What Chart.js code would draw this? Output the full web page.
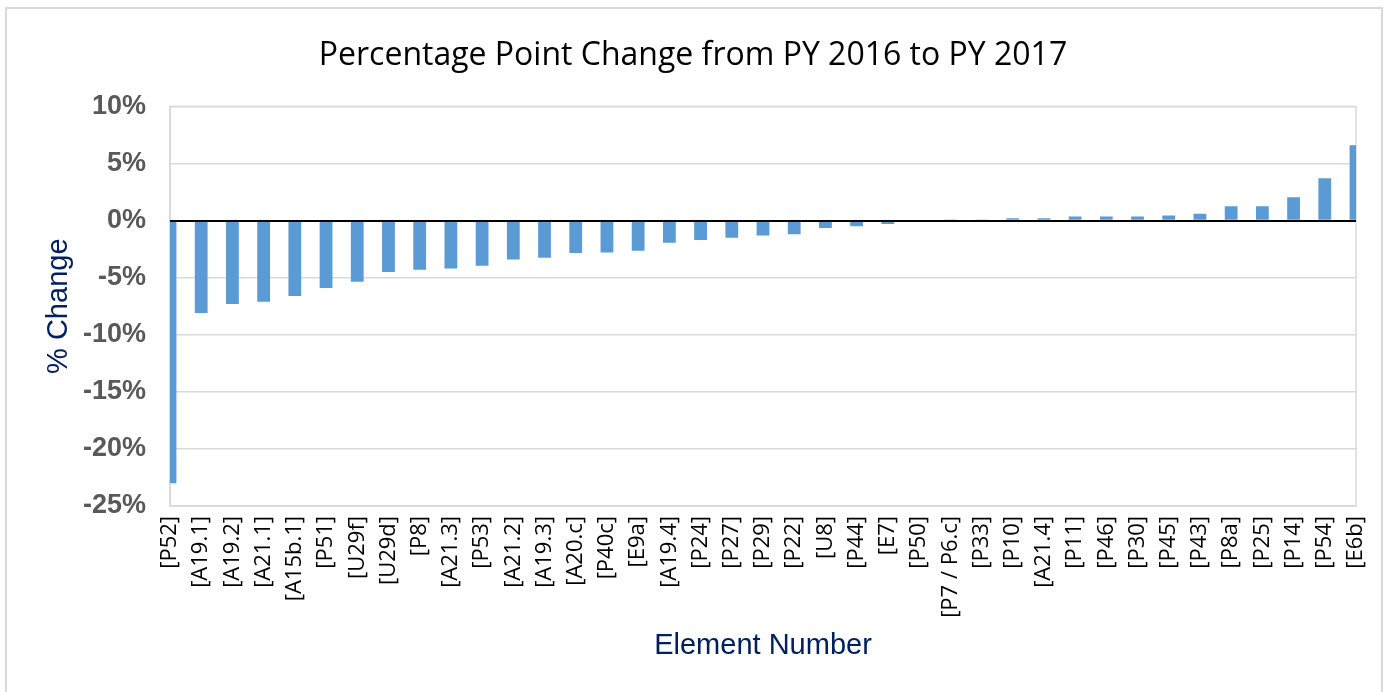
<!DOCTYPE html>
<html>
<head>
<meta charset="utf-8">
<title>Percentage Point Change from PY 2016 to PY 2017</title>
<script src="https://cdn.jsdelivr.net/npm/chart.js@4"></script>
<style>
  html, body { margin: 0; padding: 0; background: #fff; }
  #wrap { width: 1385px; height: 692px; }
</style>
</head>
<body>
<div id="wrap"><canvas id="changeChart" width="1385" height="692"></canvas></div>
<script>
// Element numbers (x categories)
const elements = ['[P52]', '[A19.1]', '[A19.2]', '[A21.1]', '[A15b.1]', '[P51]', '[U29f]', '[U29d]', '[P8]', '[A21.3]',
  '[P53]', '[A21.2]', '[A19.3]', '[A20.c]', '[P40c]', '[E9a]', '[A19.4]', '[P24]', '[P27]', '[P29]',
  '[P22]', '[U8]', '[P44]', '[E7]', '[P50]', '[P7 / P6.c]', '[P33]', '[P10]', '[A21.4]', '[P11]',
  '[P46]', '[P30]', '[P45]', '[P43]', '[P8a]', '[P25]', '[P14]', '[P54]', '[E6b]'];

// Percentage point change, PY 2016 -> PY 2017
const pctChange = [-23.0, -8.1, -7.3, -7.1, -6.6, -5.9, -5.35, -4.5, -4.3, -4.2,
  -3.95, -3.4, -3.25, -2.85, -2.8, -2.65, -1.95, -1.7, -1.5, -1.3,
  -1.2, -0.65, -0.5, -0.3, 0, 0.1, 0.1, 0.2, 0.2, 0.35,
  0.35, 0.35, 0.45, 0.6, 1.25, 1.25, 2.05, 3.7, 6.6];

// y axis range
const yMin = -25, yMax = 10, yStep = 5;

const GRID = '#d9d9d9';
const NAVY = '#002060';

// frame around the plot + outer chart border
const framePlugin = {
  id: 'frames',
  beforeDraw(chart) {
    const ctx = chart.ctx;
    ctx.save();
    ctx.strokeStyle = GRID;
    ctx.lineWidth = 2;
    ctx.strokeRect(6, 8, 1376, 700);
    ctx.restore();
  },
  beforeDatasetsDraw(chart) {
    const {ctx, chartArea: a} = chart;
    ctx.save();
    ctx.strokeStyle = GRID;
    ctx.lineWidth = 1.5;
    ctx.strokeRect(a.left, a.top, a.right - a.left, a.bottom - a.top);
    ctx.restore();
  },
  afterDatasetsDraw(chart) {
    // zero line sits on top of the bars
    const {ctx, chartArea: a, scales: {y}} = chart;
    const y0 = Math.round(y.getPixelForValue(0));
    ctx.save();
    ctx.strokeStyle = '#000';
    ctx.lineWidth = 2;
    ctx.beginPath();
    ctx.moveTo(a.left, y0);
    ctx.lineTo(a.right, y0);
    ctx.stroke();
    ctx.restore();
  }
};

new Chart(document.getElementById('changeChart'), {
  type: 'bar',
  data: {
    labels: elements,
    datasets: [{
      label: '% Change',
      data: pctChange,
      backgroundColor: '#5b9bd5',
      categoryPercentage: 1,
      barPercentage: 0.41
    }]
  },
  options: {
    responsive: false,
    animation: false,
    layout: { padding: { left: 30, right: 29, top: 0, bottom: 0 } },
    plugins: {
      legend: { display: false },
      tooltip: { enabled: false },
      title: {
        display: true,
        text: 'Percentage Point Change from PY 2016 to PY 2017',
        color: '#000',
        font: { family: 'Open Sans', size: 32, weight: 'normal', lineHeight: 1.2 },
        padding: { top: 37, bottom: 31 }
      }
    },
    scales: {
      x: {
        offset: false,
        grid: { display: false, drawTicks: false },
        border: { display: false },
        ticks: {
          autoSkip: false,
          minRotation: 90,
          maxRotation: 90,
          padding: 10,
          color: '#000',
          font: { family: 'Open Sans', size: 22 }
        },
        title: {
          display: true,
          text: 'Element Number',
          color: NAVY,
          font: { family: 'Liberation Sans', size: 29 },
          padding: { top: 0, bottom: 29 }
        },
        afterFit(scale) {
          scale.height = 186;
          scale.paddingLeft = 0;
          scale.paddingRight = 0;
        }
      },
      y: {
        min: yMin,
        max: yMax,
        grid: {
          drawTicks: false,
          color: GRID,
          lineWidth: 1.5
        },
        border: { display: true, color: GRID, width: 1.5 },
        ticks: {
          stepSize: yStep,
          padding: 24,
          color: '#595959',
          font: { family: 'Liberation Sans', size: 27, weight: 'bold' },
          callback: v => v + '%'
        },
        title: {
          display: true,
          text: '% Change',
          color: NAVY,
          font: { family: 'Liberation Sans', size: 29, lineHeight: 1.2 },
          padding: { top: 12, bottom: 0 }
        },
        afterFit(scale) { scale.width = 140; }
      }
    }
  },
  plugins: [framePlugin]
});
</script>
</body>
</html>
